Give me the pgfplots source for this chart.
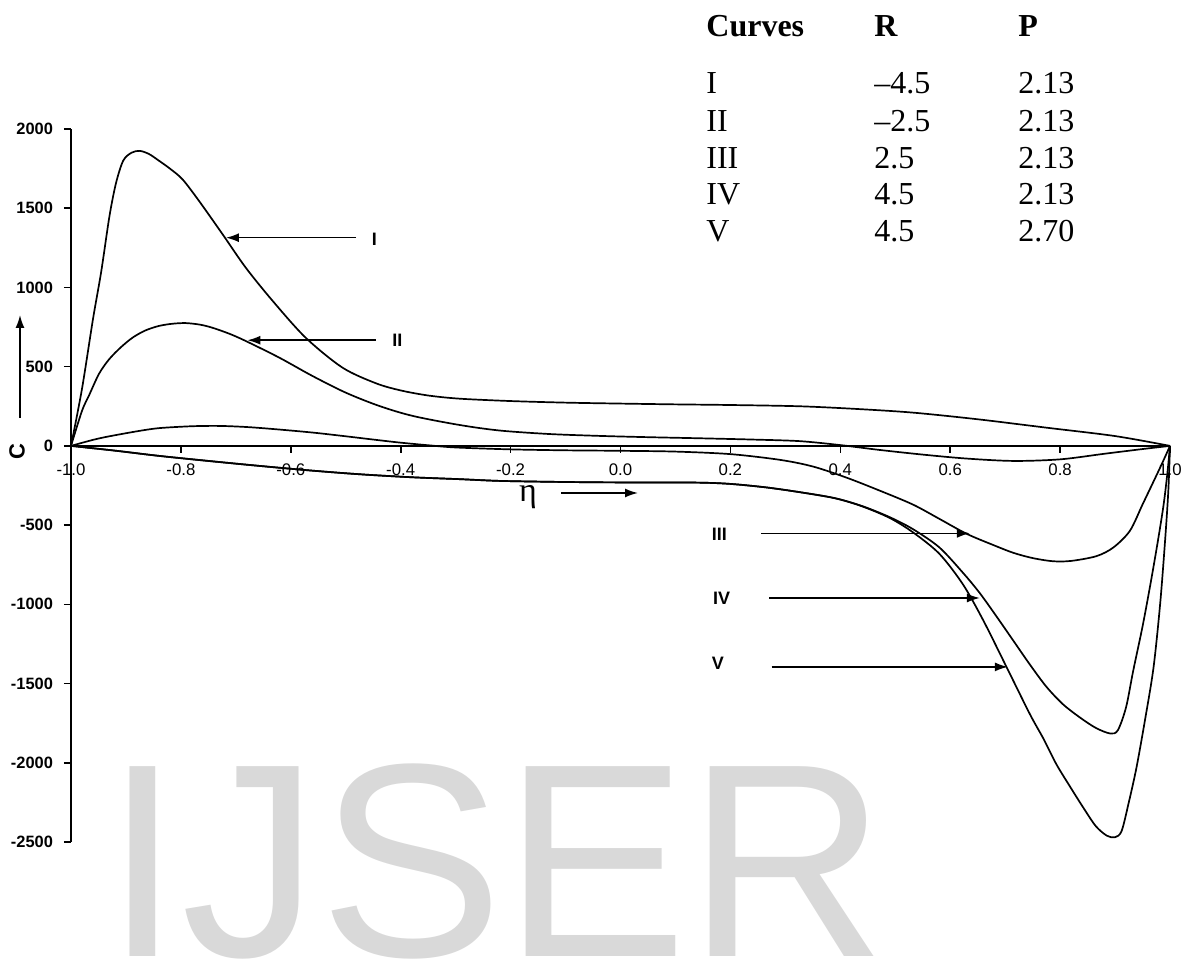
\documentclass[border=0pt]{standalone}
\usepackage{fontspec}
\setmainfont{Liberation Serif}
\setsansfont{Liberation Sans}
\usepackage{pgfplots}
\pgfplotsset{compat=1.18}
\usetikzlibrary{arrows.meta}

\begin{document}
\begin{tikzpicture}
\useasboundingbox (-35.5pt,-61pt) rectangle (556.5pt,421pt);
% watermark
\node[anchor=base west, text=black!15, inner sep=0pt, font=\sffamily\fontsize{138}{138}\selectfont] at (16.5pt,-57pt) {IJSER};

\begin{axis}[
  at={(0pt,0pt)}, anchor=south west,
  scale only axis, width=549.5pt, height=356.5pt,
  xmin=-1, xmax=1, ymin=-2500, ymax=2000,
  axis x line=middle, axis y line=left,
  axis line style={-, line width=1pt},
  hide obscured x ticks=false, hide obscured y ticks=false,
  clip=false,
  tick align=outside, major tick length=3.5pt,
  every tick/.style={black, line width=0.8pt},
  xtick={-1,-0.8,-0.6,-0.4,-0.2,0,0.2,0.4,0.6,0.8,1},
  xticklabels={-1.0,-0.8,-0.6,-0.4,-0.2,0.0,0.2,0.4,0.6,0.8,1.0},
  ytick={-2500,-2000,-1500,-1000,-500,0,500,1000,1500,2000},
  yticklabels={-2500,-2000,-1500,-1000,-500,0,500,1000,1500,2000},
  xticklabel style={font=\sffamily\fontsize{8.4}{9}\selectfont, yshift=-2pt},
  yticklabel style={font=\sffamily\bfseries\fontsize{8.2}{9}\selectfont, xshift=-2pt},
]
% Curve I
\addplot[black, line width=0.85pt, smooth] coordinates {
(-1,0) (-0.98,360) (-0.96,800) (-0.945,1100) (-0.93,1450) (-0.918,1660) (-0.905,1800)
(-0.89,1850) (-0.875,1862) (-0.858,1842) (-0.84,1800) (-0.82,1750) (-0.797,1682)
(-0.767,1546) (-0.724,1335) (-0.682,1125) (-0.633,915) (-0.573,683) (-0.506,494)
(-0.445,395) (-0.40,350) (-0.35,318) (-0.293,298) (-0.2,283) (-0.1,273) (0,267)
(0.1,262) (0.2,258) (0.326,250) (0.43,233) (0.532,210) (0.65,168) (0.775,115)
(0.9,62) (1,0)};
% Curve II
\addplot[black, line width=0.85pt, smooth] coordinates {
(-1,0) (-0.98,221) (-0.967,320) (-0.949,455) (-0.931,545) (-0.91,620) (-0.888,683)
(-0.865,728) (-0.84,757) (-0.815,771) (-0.791,775) (-0.765,765) (-0.743,746)
(-0.712,708) (-0.682,662) (-0.621,557) (-0.561,442) (-0.5,336) (-0.439,252)
(-0.378,189) (-0.293,132) (-0.22,97) (-0.13,75) (-0.038,63) (0.05,55) (0.144,48)
(0.24,40) (0.326,30) (0.4,5) (0.47,-25) (0.55,-55) (0.63,-80) (0.715,-95)
(0.8,-85) (0.88,-50) (0.95,-20) (1,0)};
% Curve III
\addplot[black, line width=0.85pt, smooth] coordinates {
(-1,0) (-0.96,38) (-0.931,60) (-0.88,92) (-0.84,112) (-0.78,124) (-0.73,126)
(-0.68,119) (-0.627,105) (-0.56,84) (-0.506,63) (-0.45,40) (-0.402,21) (-0.35,4)
(-0.3,-10) (-0.2,-22) (-0.1,-28) (0,-31) (0.1,-36) (0.2,-52) (0.29,-88) (0.35,-130)
(0.411,-200) (0.47,-280) (0.532,-370) (0.58,-460) (0.63,-555) (0.68,-628)
(0.715,-675) (0.75,-708) (0.787,-728) (0.82,-726) (0.866,-696) (0.897,-641)
(0.927,-536) (0.95,-370) (0.97,-225) (0.985,-115) (1,0)};
% Curve IV
\addplot[black, line width=0.85pt, smooth] coordinates {
(-1,0) (-0.92,-30) (-0.84,-63) (-0.75,-95) (-0.658,-126) (-0.565,-155) (-0.475,-179)
(-0.38,-198) (-0.293,-210) (-0.22,-221) (-0.12,-227) (-0.038,-230) (0.05,-231)
(0.144,-232) (0.2,-240) (0.265,-262) (0.326,-292) (0.39,-330) (0.44,-380)
(0.49,-450) (0.532,-525) (0.58,-640) (0.623,-800) (0.654,-930) (0.685,-1080)
(0.715,-1230) (0.745,-1380) (0.775,-1520) (0.805,-1630) (0.836,-1714) (0.865,-1780)
(0.891,-1815) (0.905,-1795) (0.92,-1650) (0.933,-1420) (0.95,-1140) (0.964,-880)
(0.977,-620) (0.988,-380) (0.995,-180) (1,0)};
% Curve V
\addplot[black, line width=0.85pt, smooth] coordinates {
(-1,0) (-0.92,-30) (-0.84,-63) (-0.75,-95) (-0.658,-126) (-0.565,-155) (-0.475,-179)
(-0.38,-198) (-0.293,-210) (-0.22,-221) (-0.12,-227) (-0.038,-230) (0.05,-231)
(0.144,-232) (0.2,-240) (0.265,-262) (0.326,-292) (0.39,-330) (0.44,-382)
(0.49,-455) (0.532,-545) (0.58,-680) (0.623,-873) (0.66,-1100) (0.703,-1399)
(0.745,-1693) (0.77,-1850) (0.793,-2008) (0.818,-2150) (0.842,-2282) (0.865,-2400)
(0.885,-2460) (0.9,-2470) (0.912,-2430) (0.925,-2250) (0.939,-2030) (0.955,-1720)
(0.970,-1399) (0.982,-1000) (0.991,-600) (0.997,-280) (1,0)};

% curve labels with arrows
\tikzset{lab/.style={font=\sffamily\bfseries\fontsize{9}{10}\selectfont, inner sep=0pt},
         arr/.style={-{Latex[length=6.5pt,width=4.5pt]}, line width=0.8pt}}
\draw[arr] (axis cs:-0.481,1314) -- (axis cs:-0.718,1314);
\node[lab] at (axis cs:-0.448,1306) {I};
\draw[arr] (axis cs:-0.445,667) -- (axis cs:-0.679,667);
\node[lab] at (axis cs:-0.406,667) {II};
\draw[arr] (axis cs:0.256,-552) -- (axis cs:0.636,-552);
\node[lab] at (axis cs:0.180,-557) {III};
\draw[arr] (axis cs:0.271,-960) -- (axis cs:0.654,-960);
\node[lab] at (axis cs:0.184,-960) {IV};
\draw[arr] (axis cs:0.275,-1395) -- (axis cs:0.705,-1395);
\node[lab] at (axis cs:0.177,-1370) {V};
\end{axis}

% axis labels
\node[rotate=90, font=\sffamily\bfseries\fontsize{11}{12}\selectfont, inner sep=0pt] at (-27pt,195pt) {C};
\draw[-{Latex[length=6.5pt,width=4.5pt]}, line width=0.8pt] (-25.5pt,212pt) -- (-25.5pt,263.5pt);
\node[font=\fontsize{17}{18}\selectfont, inner sep=0pt] at (228.5pt,172.5pt) {η};
\draw[-{Latex[length=6.5pt,width=4.5pt]}, line width=0.8pt] (245pt,174.5pt) -- (283.5pt,174.5pt);

% table
\begin{scope}[every node/.style={anchor=base west, inner sep=0pt, font=\fontsize{16}{18}\selectfont}]
\node at (317.5pt,402.65pt) {\textbf{Curves}};
\node at (401.5pt,402.65pt) {\textbf{R}};
\node at (473.5pt,402.65pt) {\textbf{P}};
\node at (317.5pt,374.35pt) {I};   \node at (401.5pt,374.35pt) {--4.5}; \node at (473.5pt,374.35pt) {2.13};
\node at (317.5pt,355.15pt) {II};  \node at (401.5pt,355.15pt) {--2.5}; \node at (473.5pt,355.15pt) {2.13};
\node at (317.5pt,336.85pt) {III}; \node at (401.5pt,336.85pt) {2.5};   \node at (473.5pt,336.85pt) {2.13};
\node at (317.5pt,318.5pt) {IV};   \node at (401.5pt,318.5pt) {4.5};    \node at (473.5pt,318.5pt) {2.13};
\node at (317.5pt,300.15pt) {V};   \node at (401.5pt,300.15pt) {4.5};    \node at (473.5pt,300.15pt) {2.70};
\end{scope}
\end{tikzpicture}
\end{document}
